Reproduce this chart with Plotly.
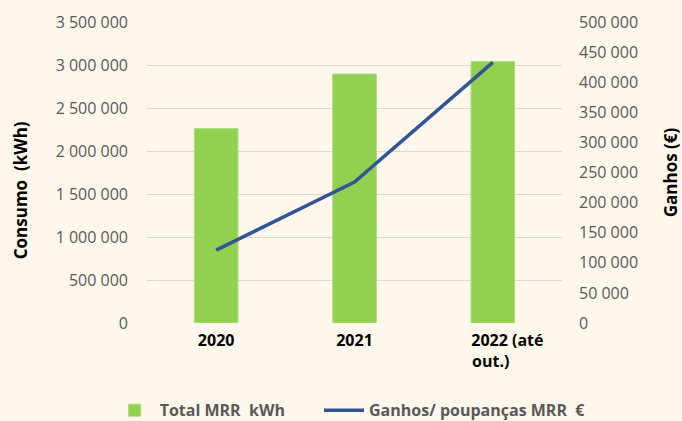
import plotly.graph_objects as go

# data
categories = ["2020", "2021", "2022 (até out.)"]
tick_labels = ["2020", "2021", "\u00a0" * 7 + "2022 (até<br>" + "\u00a0" * 7 + "out.)" + "\u00a0" * 8]
consumo_kwh = [2260000, 2895000, 3040000]
ganhos_eur = [121000, 234000, 433000]

left_ticks = [0, 500000, 1000000, 1500000, 2000000, 2500000, 3000000, 3500000]
right_ticks = [0, 50000, 100000, 150000, 200000, 250000, 300000, 350000, 400000, 450000, 500000]


def fmt(v):
    return f"{v:,}".replace(",", " ")


BG = "#FEF8EC"
GREY = "#595959"
FONT = "Open Sans"
NB = "\u00a0"

fig = go.Figure()

fig.add_trace(go.Bar(
    x=categories,
    y=consumo_kwh,
    # trailing no-break spaces widen the gap before the second legend entry
    name="Total MRR" + NB + " kWh" + NB * 7,
    marker=dict(color="#92D050", line=dict(color="#A9DC78", width=1)),
    yaxis="y",
))

fig.add_trace(go.Scatter(
    x=categories,
    y=ganhos_eur,
    name="Ganhos/ poupanças MRR" + NB + " €",
    mode="lines",
    line=dict(color="#2F5597", width=3.5),
    yaxis="y2",
))

fig.update_layout(
    width=682,
    height=421,
    paper_bgcolor=BG,
    plot_bgcolor=BG,
    margin=dict(l=147, r=120, t=22, b=98, autoexpand=False),
    bargap=0.685,
    font=dict(family=FONT, size=16, color=GREY),
    showlegend=True,
    legend=dict(
        orientation="h",
        x=-0.09, xanchor="left",
        y=-0.29, yanchor="middle",
        font=dict(family=FONT, size=16, color=GREY, weight="bold"),
        itemwidth=40,
        bgcolor="rgba(0,0,0,0)",
    ),
    xaxis=dict(
        type="category",
        tickvals=categories,
        ticktext=tick_labels,
        tickfont=dict(family=FONT, size=16, color="black", weight="bold"),
        showgrid=False,
        showline=False,
        zeroline=False,
        ticks="",
        ticklabelstandoff=6,
    ),
    yaxis=dict(
        range=[0, 3500000],
        tickvals=left_ticks,
        ticktext=[fmt(v) for v in left_ticks],
        tickfont=dict(family=FONT, size=16, color=GREY),
        showgrid=True,
        gridcolor="#D9D9D9",
        gridwidth=1.3,
        zeroline=False,
        ticks="",
        ticklabelstandoff=18,
    ),
    yaxis2=dict(
        overlaying="y",
        side="right",
        range=[0, 500000],
        tickvals=right_ticks,
        ticktext=[fmt(v) for v in right_ticks],
        tickfont=dict(family=FONT, size=16, color=GREY),
        showgrid=False,
        zeroline=False,
        ticks="",
        ticklabelstandoff=16,
        title=dict(text="Ganhos (€)", font=dict(family=FONT, size=17, color="black", weight="bold"), standoff=30),
    ),
)

# left axis title sits a little below the plot's middle, as in the original
fig.add_annotation(
    text="Consumo" + NB + " (kWh)",
    xref="paper", yref="paper",
    x=-0.306, y=0.441,
    xanchor="center", yanchor="middle",
    textangle=-90,
    showarrow=False,
    font=dict(family=FONT, size=17, color="black", weight="bold"),
)

# drop the browser's default page margin so the chart fills the window
fig.write_html(
    "out.html",
    config={"displayModeBar": False},
    post_script="document.body.style.margin='0';",
)
